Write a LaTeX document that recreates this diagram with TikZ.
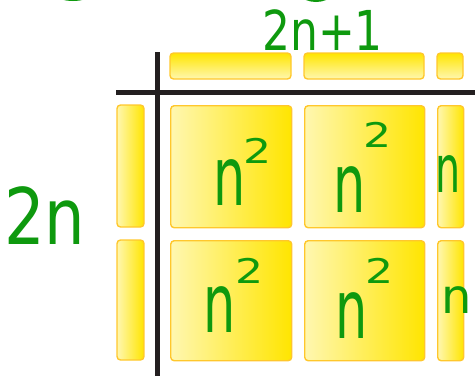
\documentclass[tikz,border=0pt]{standalone}
\usepackage{fontspec}
\setmainfont{DejaVu Sans}
\definecolor{hand}{HTML}{0E990E}
\definecolor{yedge}{HTML}{FFC72C}
\definecolor{ylight}{HTML}{FFF7B0}
\definecolor{ydark}{HTML}{FFE500}
\definecolor{axis}{HTML}{231F20}
\newcommand\sz[1]{\fontsize{#1}{#1}\selectfont}
% n^2 : gap (pt), raise (pt)
\newcommand\nsqr[2]{\scalebox{0.62}[1]{\sz{82}n}\hspace{#1}\raisebox{#2}{\scalebox{1.3}[1]{\sz{34}2}}}
\tikzset{
  tile/.style={draw=yedge, line width=1.4pt, rounded corners=3.5pt,
    left color=ylight, right color=ydark},
  toptile/.style={draw=yedge, line width=1.4pt, rounded corners=3.5pt,
    top color=ydark, bottom color=ylight},
  axisline/.style={draw=axis, line width=5pt},
  hw/.style={text=hand, inner sep=0pt, anchor=base west},
  loop/.style={draw=hand, line width=4pt}
}
\begin{document}
\begin{tikzpicture}[x=1pt,y=-1pt]
\useasboundingbox (0,0) rectangle (475,376);
\clip (0,0) rectangle (475,376);
% partial loops at top edge
\draw[loop] (73,-26) ellipse [x radius=32, y radius=25];
\draw[loop] (316,-27) ellipse [x radius=26, y radius=27];
% top tiles
\path[toptile] (170,53) rectangle (291,79);
\path[toptile] (304,53) rectangle (424,79);
\path[toptile] (437,53) rectangle (463,79);
% left tiles
\path[tile] (117,105) rectangle (144,227);
\path[tile] (117,240) rectangle (144,360);
% squares
\node[tile, minimum width=121pt, minimum height=122pt, inner sep=0pt, anchor=north west] (s11) at (170,105) {};
\node[tile, minimum width=120pt, minimum height=122pt, inner sep=0pt, anchor=north west] (s12) at (304,105) {};
\node[tile, minimum width=121pt, minimum height=120pt, inner sep=0pt, anchor=north west] (s21) at (170,240) {};
\node[tile, minimum width=120pt, minimum height=120pt, inner sep=0pt, anchor=north west] (s22) at (304,240) {};
\node[tile, minimum width=26pt, minimum height=122pt, inner sep=0pt, anchor=north west] (r1) at (437,105) {};
\node[tile, minimum width=26pt, minimum height=120pt, inner sep=0pt, anchor=north west] (r2) at (437,240) {};
% axes
\path[axisline] (116,92) -- (475,92);
\path[axisline] (157,52) -- (157,376);
% labels
\node[hw] (t11) at (213,205) {\nsqr{-2pt}{42pt}};
\node[hw] (t12) at (333,212) {\nsqr{-2pt}{65pt}};
\node[hw] (t21) at (203,332) {\nsqr{0pt}{49pt}};
\node[hw] (t22) at (335,338) {\nsqr{-2pt}{55pt}};
\node[hw] (n1) at (435,192) {\scalebox{0.6}[1]{\sz{66}n}};
\node[hw] (n2) at (441,313) {\sz{48}n};
\node[hw] (top) at (262,50) {\scalebox{0.8}[1]{\sz{55}2n+1}};
\node[hw] (left) at (4,244) {\scalebox{0.82}[1]{\sz{78}2n}};
\end{tikzpicture}
\end{document}
